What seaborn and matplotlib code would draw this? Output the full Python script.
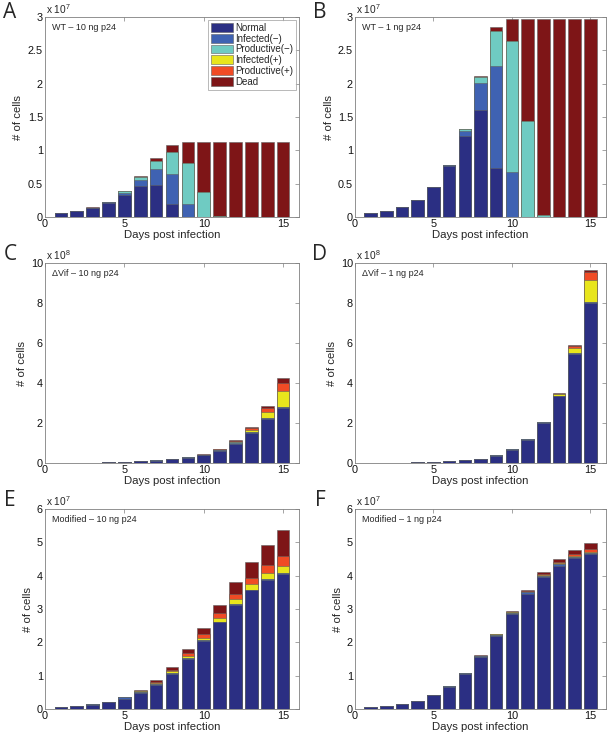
import numpy as np
import pandas as pd
import matplotlib
matplotlib.use("Agg")
import matplotlib.pyplot as plt
import seaborn as sns
from matplotlib.patches import Patch

# ---------------- data ----------------
days = list(range(1, 16))
categories = ["Normal", "Infected(\u2212)", "Productive(\u2212)", "Infected(+)", "Productive(+)", "Dead"]
colors = ["#2b2f83", "#3f62b2", "#6fcbc2", "#e8e51c", "#f04b25", "#7e1517"]
x_ticks = [0, 5, 10, 15]

# Panel A: WT - 10 ng p24 (x 10^7)
wt10_normal = [0.055, 0.09, 0.135, 0.21, 0.33, 0.46, 0.485, 0.195, 0.005, 0, 0, 0, 0, 0, 0]
wt10_inf_neg = [0, 0.003, 0.006, 0.012, 0.035, 0.10, 0.235, 0.45, 0.185, 0, 0, 0, 0, 0, 0]
wt10_prod_neg = [0, 0, 0, 0.003, 0.018, 0.035, 0.115, 0.325, 0.625, 0.37, 0.02, 0, 0, 0, 0]
wt10_inf_pos = [0, 0, 0, 0, 0, 0, 0, 0, 0, 0, 0, 0, 0, 0, 0]
wt10_prod_pos = [0, 0, 0, 0, 0, 0.005, 0, 0, 0, 0, 0, 0, 0, 0, 0]
wt10_dead = [0, 0.002, 0.002, 0.002, 0.007, 0.015, 0.05, 0.115, 0.31, 0.755, 1.105, 1.125, 1.125, 1.125, 1.125]

# Panel B: WT - 1 ng p24 (x 10^7)
wt1_normal = [0.055, 0.095, 0.15, 0.255, 0.445, 0.765, 1.22, 1.60, 0.73, 0, 0, 0, 0, 0, 0]
wt1_inf_neg = [0, 0, 0, 0.005, 0.005, 0.01, 0.075, 0.405, 1.54, 0.68, 0, 0, 0, 0, 0]
wt1_prod_neg = [0, 0, 0, 0, 0, 0.005, 0.025, 0.09, 0.515, 1.965, 1.44, 0.025, 0, 0, 0]
wt1_inf_pos = [0, 0, 0, 0, 0, 0, 0, 0, 0, 0, 0, 0, 0, 0, 0]
wt1_prod_pos = [0, 0, 0, 0, 0, 0, 0, 0, 0, 0, 0, 0, 0, 0, 0]
wt1_dead = [0, 0, 0, 0, 0, 0, 0.005, 0.02, 0.07, 0.32, 1.525, 2.94, 2.965, 2.965, 2.965]

# Panel C: dVif - 10 ng p24 (x 10^8)
dvif10_normal = [0.005, 0.01, 0.02, 0.035, 0.055, 0.085, 0.125, 0.18, 0.27, 0.38, 0.60, 0.97, 1.50, 2.20, 2.75]
dvif10_inf_neg = [0, 0, 0, 0, 0, 0, 0.005, 0.01, 0.02, 0.03, 0.04, 0.05, 0.05, 0.05, 0.04]
dvif10_prod_neg = [0, 0, 0, 0, 0, 0, 0, 0, 0, 0, 0.01, 0.01, 0.01, 0.01, 0.01]
dvif10_inf_pos = [0, 0, 0, 0, 0, 0, 0, 0, 0, 0.01, 0.02, 0.04, 0.10, 0.27, 0.78]
dvif10_prod_pos = [0, 0, 0, 0, 0, 0, 0, 0, 0, 0.005, 0.015, 0.03, 0.07, 0.22, 0.42]
dvif10_dead = [0, 0, 0, 0, 0, 0, 0, 0, 0, 0.005, 0.015, 0.03, 0.07, 0.12, 0.27]

# Panel D: dVif - 1 ng p24 (x 10^8)
dvif1_normal = [0.005, 0.01, 0.02, 0.03, 0.05, 0.08, 0.13, 0.22, 0.375, 0.67, 1.165, 2.00, 3.33, 5.45, 8.00]
dvif1_inf_neg = [0, 0, 0, 0, 0, 0, 0, 0, 0.005, 0.01, 0.015, 0.03, 0.03, 0.04, 0.03]
dvif1_prod_neg = [0, 0, 0, 0, 0, 0, 0, 0, 0, 0, 0, 0, 0, 0, 0]
dvif1_inf_pos = [0, 0, 0, 0, 0, 0, 0, 0, 0, 0, 0, 0, 0.07, 0.24, 1.14]
dvif1_prod_pos = [0, 0, 0, 0, 0, 0, 0, 0, 0, 0, 0, 0, 0.04, 0.12, 0.38]
dvif1_dead = [0, 0, 0, 0, 0, 0, 0, 0, 0, 0, 0, 0, 0.03, 0.05, 0.12]

# Panel E: Modified - 10 ng p24 (x 10^7)
mod10_normal = [0.05, 0.085, 0.13, 0.21, 0.30, 0.48, 0.72, 1.06, 1.51, 2.04, 2.60, 3.13, 3.56, 3.87, 4.06]
mod10_inf_neg = [0, 0, 0.01, 0.015, 0.05, 0.04, 0.03, 0.02, 0.02, 0.02, 0.02, 0.02, 0.02, 0.02, 0.02]
mod10_prod_neg = [0, 0, 0, 0, 0.005, 0, 0, 0, 0, 0, 0, 0, 0, 0, 0]
mod10_inf_pos = [0, 0, 0, 0, 0.005, 0.02, 0.04, 0.05, 0.06, 0.08, 0.11, 0.15, 0.16, 0.18, 0.22]
mod10_prod_pos = [0, 0, 0, 0, 0, 0.015, 0.03, 0.05, 0.09, 0.12, 0.15, 0.16, 0.20, 0.26, 0.30]
mod10_dead = [0, 0, 0, 0, 0, 0.015, 0.04, 0.09, 0.13, 0.18, 0.25, 0.34, 0.47, 0.60, 0.78]

# Panel F: Modified - 1 ng p24 (x 10^7)
mod1_normal = [0.05, 0.085, 0.14, 0.25, 0.42, 0.675, 1.05, 1.56, 2.19, 2.85, 3.46, 3.95, 4.30, 4.53, 4.65]
mod1_inf_neg = [0, 0, 0, 0, 0, 0.005, 0.02, 0.04, 0.04, 0.04, 0.04, 0.04, 0.04, 0.03, 0.03]
mod1_prod_neg = [0, 0, 0, 0, 0, 0, 0, 0, 0, 0, 0, 0, 0, 0, 0]
mod1_inf_pos = [0, 0, 0, 0, 0, 0, 0, 0, 0.01, 0.01, 0.02, 0.02, 0.03, 0.03, 0.04]
mod1_prod_pos = [0, 0, 0, 0, 0, 0, 0, 0, 0, 0.01, 0.02, 0.03, 0.04, 0.05, 0.07]
mod1_dead = [0, 0, 0, 0, 0, 0, 0, 0.01, 0.01, 0.02, 0.04, 0.06, 0.08, 0.13, 0.19]

panels = [
    ("A", "WT \u2013 10 ng p24", 7, 3, [0, 0.5, 1, 1.5, 2, 2.5, 3], ["0", "0.5", "1", "1.5", "2", "2.5", "3"],
     [wt10_normal, wt10_inf_neg, wt10_prod_neg, wt10_inf_pos, wt10_prod_pos, wt10_dead]),
    ("B", "WT \u2013 1 ng p24", 7, 3, [0, 0.5, 1, 1.5, 2, 2.5, 3], ["0", "0.5", "1", "1.5", "2", "2.5", "3"],
     [wt1_normal, wt1_inf_neg, wt1_prod_neg, wt1_inf_pos, wt1_prod_pos, wt1_dead]),
    ("C", "\u0394Vif \u2013 10 ng p24", 8, 10, [0, 2, 4, 6, 8, 10], ["0", "2", "4", "6", "8", "10"],
     [dvif10_normal, dvif10_inf_neg, dvif10_prod_neg, dvif10_inf_pos, dvif10_prod_pos, dvif10_dead]),
    ("D", "\u0394Vif \u2013 1 ng p24", 8, 10, [0, 2, 4, 6, 8, 10], ["0", "2", "4", "6", "8", "10"],
     [dvif1_normal, dvif1_inf_neg, dvif1_prod_neg, dvif1_inf_pos, dvif1_prod_pos, dvif1_dead]),
    ("E", "Modified \u2013 10 ng p24", 7, 6, [0, 1, 2, 3, 4, 5, 6], ["0", "1", "2", "3", "4", "5", "6"],
     [mod10_normal, mod10_inf_neg, mod10_prod_neg, mod10_inf_pos, mod10_prod_pos, mod10_dead]),
    ("F", "Modified \u2013 1 ng p24", 7, 6, [0, 1, 2, 3, 4, 5, 6], ["0", "1", "2", "3", "4", "5", "6"],
     [mod1_normal, mod1_inf_neg, mod1_prod_neg, mod1_inf_pos, mod1_prod_pos, mod1_dead]),
]

# ---------------- style ----------------
sns.set_theme(style="white")
plt.rcParams["font.family"] = ["Liberation Sans", "DejaVu Sans"]
plt.rcParams["mathtext.fontset"] = "custom"
plt.rcParams["mathtext.rm"] = "Liberation Sans"
plt.rcParams["mathtext.default"] = "regular"

W, H = 612, 737
fig = plt.figure(figsize=(W / 100, H / 100), dpi=100)
fig.patch.set_facecolor("white")

col_left = [45, 355]
col_width = [254, 251]
row_bottom = [217, 463, 709]
ax_h = 200
spine_col = "#808080"
edge = "#606060"

for k, (letter, title, exp, ymax, yt, ytl, segs) in enumerate(panels):
    r, c = divmod(k, 2)
    ax = fig.add_axes([col_left[c] / W, 1 - row_bottom[r] / H, col_width[c] / W, ax_h / H])
    cum = np.cumsum(np.array(segs, dtype=float), axis=0)
    for i in range(len(categories) - 1, -1, -1):
        df = pd.DataFrame({"day": days, "top": cum[i]})
        sns.barplot(data=df, x="day", y="top", native_scale=True, color=colors[i],
                    saturation=1, width=0.8, edgecolor=edge, linewidth=0.4,
                    errorbar=None, ax=ax)
    ax.set_xlim(0, 16)
    ax.set_ylim(0, ymax)
    ax.set_xticks(x_ticks)
    ax.set_xticklabels([str(t) for t in x_ticks])
    ax.set_yticks(yt)
    ax.set_yticklabels(ytl)
    ax.tick_params(direction="in", top=True, right=True, length=3, width=0.5,
                   color=spine_col, labelsize=7.8, labelcolor="#111111", pad=1.5)
    for s in ax.spines.values():
        s.set_color(spine_col)
        s.set_linewidth(0.6)
    ax.set_xlabel("Days post infection", fontsize=8.2, labelpad=0.5)
    ax.set_ylabel("# of cells", fontsize=8.2, labelpad=3)
    ax.text(0.005, 1.003, "x 10$^{%d}$" % exp, transform=ax.transAxes,
            ha="left", va="bottom", fontsize=7.3)
    ax.text(0.027, 0.95, title, transform=ax.transAxes, ha="left", va="center", fontsize=6.5)
    fig.text((10 if c == 0 else 320) / W, 1 - [12.5, 255, 501][r] / H, letter,
             fontsize=15, ha="center", va="center", family=["Open Sans", "DejaVu Sans"])
    if k == 0:
        handles = [Patch(facecolor=col, edgecolor=edge, linewidth=0.4, label=lab)
                   for col, lab in zip(colors, categories)]
        leg = ax.legend(handles=handles, loc="upper right", fontsize=7, frameon=True,
                        fancybox=False, edgecolor="#999999", handlelength=2.2,
                        handleheight=1.0, handletextpad=0.25, labelspacing=0.08,
                        borderpad=0.3, borderaxespad=0.3)
        leg.get_frame().set_linewidth(0.6)

fig.savefig("out.png", dpi=100, facecolor="white")
